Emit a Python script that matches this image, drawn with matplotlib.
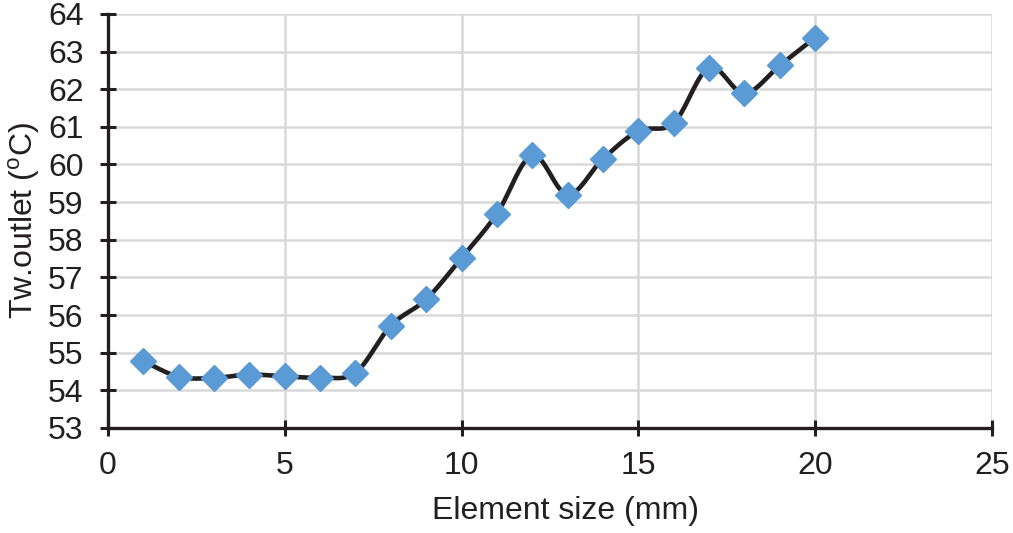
import numpy as np
import matplotlib
matplotlib.use("Agg")
import matplotlib.pyplot as plt

plt.rcParams['font.family'] = ['Liberation Sans', 'DejaVu Sans']

# data
element_size = [1, 2, 3, 4, 5, 6, 7, 8, 9, 10, 11, 12, 13, 14, 15, 16, 17, 18, 19, 20]
tw_outlet = [54.78, 54.36, 54.33, 54.42, 54.37, 54.34, 54.47, 55.72, 56.42, 57.52,
             58.69, 60.24, 59.2, 60.15, 60.89, 61.1, 62.57, 61.89, 62.63, 63.37]


def smooth_curve(x, y, sx=1.0, sy=1.0, n=20):
    """ Catmull-Rom like smoothing (similar to the spreadsheet 'smoothed line') """
    px = np.asarray(x, float) * sx
    py = np.asarray(y, float) * sy
    pts = np.column_stack((px, py))
    out = []
    t = np.linspace(0, 1, n)
    for i in range(len(pts) - 1):
        p0 = pts[i - 1] if i > 0 else pts[i]
        p1 = pts[i]
        p2 = pts[i + 1]
        p3 = pts[i + 2] if i + 2 < len(pts) else pts[i + 1]
        c1 = p1 + (p2 - p0) / 6.0
        c2 = p2 - (p3 - p1) / 6.0
        seg = ((1 - t) ** 3)[:, None] * p1 + (3 * (1 - t) ** 2 * t)[:, None] * c1 \
            + (3 * (1 - t) * t ** 2)[:, None] * c2 + (t ** 3)[:, None] * p2
        out.append(seg if i == 0 else seg[1:])
    out = np.vstack(out)
    return out[:, 0] / sx, out[:, 1] / sy


fig = plt.figure(figsize=(10.13, 5.33), dpi=100)
ax = fig.add_axes([0.1066, 0.197, 0.8726, 0.777])

# scale to screen units so the smoothing matches what is seen
sx, sy = 884 / 25.0, 414 / 11.0
cx, cy = smooth_curve(element_size, tw_outlet, sx, sy)
ax.plot(cx, cy, color='#231F20', lw=3.3, zorder=3, solid_capstyle='round')
ax.plot(element_size, tw_outlet, ls='none', marker='D', ms=13, color='#5B9BD5',
        markeredgecolor='#5B9BD5', zorder=4)

ax.set_xlim(0, 25)
ax.set_ylim(53, 64)
ax.set_xticks(np.arange(0, 26, 5))
ax.set_yticks(np.arange(53, 65, 1))
ax.grid(True, color='#D9D9D9', lw=1.8)
ax.set_axisbelow(True)

for s in ['top', 'right']:
    ax.spines[s].set_visible(False)
for s in ['left', 'bottom']:
    ax.spines[s].set_linewidth(2.4)
    ax.spines[s].set_color('#231F20')
    ax.spines[s].set_zorder(5)

ax.tick_params(direction='inout', length=11, width=2.2, color='#231F20',
               labelsize=23, labelcolor='#231F20')
ax.tick_params(axis='x', pad=11)
ax.tick_params(axis='y', pad=12)

ax.set_xlabel('Element size (mm)', fontsize=23, color='#231F20', labelpad=10)
ax.xaxis.set_label_coords(0.518, -0.165)
ax.set_ylabel(r'Tw.outlet ($^\mathregular{o}$C)', fontsize=23, color='#231F20', labelpad=4)

fig.savefig('out.png', dpi=100)
